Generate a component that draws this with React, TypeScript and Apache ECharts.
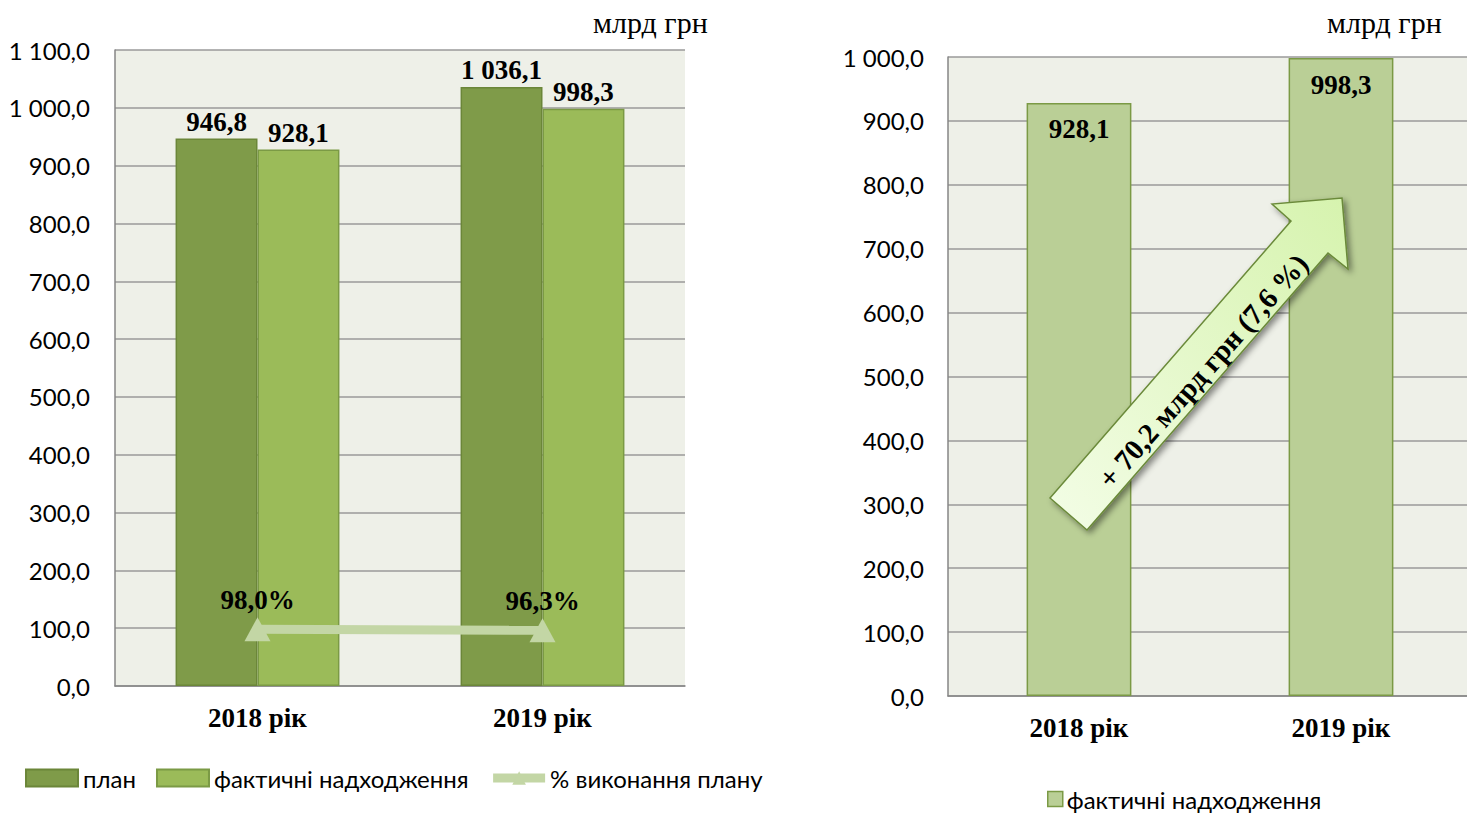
import React, { useEffect, useRef } from "react";
import * as echarts from "echarts";

const categories = ["2018 рік", "2019 рік"];
const planValues = [946.8, 1036.1];
const factValues = [928.1, 998.3];
const pctValues = [98.0, 96.3];
const pctLabels = ["98,0%", "96,3%"];
const rightFactValues = [928.1, 998.3];
const unitLabel = "млрд грн";
const arrowText = "+ 70,2 млрд грн (7,6 %)";

const SERIF = '"Liberation Serif", "Times New Roman", serif';
const SANS = 'Lato, "Noto Sans", "Liberation Sans", sans-serif';

function fmt(v: number): string {
  const s = Number(v).toFixed(1);
  const [i, d] = s.split(".");
  return i.replace(/\B(?=(\d{3})+(?!\d))/g, " ") + "," + d;
}

export default function App() {
  const ref = useRef<HTMLDivElement>(null);
  useEffect(() => {
    if (!ref.current) return;
    const chart = echarts.init(ref.current, null, { renderer: "svg" });
    const gridLine = { show: true, lineStyle: { color: "#9a9a9a", width: 1.5 } };
    const yLabel = {
      fontFamily: SANS,
      fontSize: 24,
      color: "#000",
      margin: 25,
      formatter: (v: number) => fmt(v),
    };
    const xLabel = {
      fontFamily: SERIF,
      fontSize: 27,
      fontWeight: "bold" as const,
      color: "#000",
      margin: 18,
    };
    const option: any = {
      animation: false,
      backgroundColor: "#ffffff",
      grid: [
        { left: 115, top: 50, width: 570, height: 636, show: true, backgroundColor: "#eef0e8", borderWidth: 0 },
        { left: 948, top: 57, width: 524, height: 639, show: true, backgroundColor: "#eef0e8", borderWidth: 0 },
      ],
      xAxis: [
        {
          type: "category", gridIndex: 0, data: categories,
          axisLine: { lineStyle: { color: "#868686", width: 1.5 } },
          axisTick: { show: false }, axisLabel: xLabel,
        },
        {
          type: "category", gridIndex: 1, data: categories,
          axisLine: { lineStyle: { color: "#868686", width: 1.5 } },
          axisTick: { show: false }, axisLabel: xLabel,
        },
      ],
      yAxis: [
        {
          type: "value", gridIndex: 0, min: 0, max: 1100, interval: 100,
          axisLine: { show: true, lineStyle: { color: "#868686", width: 1.5 } },
          axisTick: { show: false }, splitLine: gridLine, axisLabel: yLabel,
        },
        {
          type: "value", gridIndex: 1, min: 0, max: 1000, interval: 100,
          axisLine: { show: true, lineStyle: { color: "#868686", width: 1.5 } },
          axisTick: { show: false }, splitLine: gridLine, axisLabel: { ...yLabel, margin: 24 },
        },
        {
          type: "value", gridIndex: 0, min: 0, max: 1100, show: false,
          splitLine: { show: false },
        },
      ],
      legend: [
        {
          left: 25, top: 766, padding: 0, itemWidth: 52, itemHeight: 17, itemGap: 20,
          textStyle: { fontFamily: SANS, fontSize: 24, color: "#000" },
          data: [
            { name: "план", icon: "rect" },
            { name: "фактичні надходження", icon: "rect" },
            {
              name: "% виконання плану",
              lineStyle: { width: 9, color: "#c3d6a5" },
              itemStyle: { color: "#c3d6a5" },
            },
          ],
        },
        {
          left: 1047, top: 787, padding: 0, itemWidth: 15, itemHeight: 15, itemGap: 10,
          textStyle: { fontFamily: SANS, fontSize: 24, color: "#000", padding: [0, 0, 0, -1] },
          data: [
            { name: "фактичні надходження", icon: "rect", itemStyle: { color: "#bacf96", borderColor: "#7b9a45", borderWidth: 1.5 } },
          ],
        },
      ],
      series: [
        {
          name: "план", type: "bar", xAxisIndex: 0, yAxisIndex: 0,
          data: planValues, barGap: "0%", barCategoryGap: "42.5%",
          itemStyle: { color: "#7f9b49", borderColor: "#6b8639", borderWidth: 1.5 },
          label: {
            show: true, position: "top", distance: 3,
            fontFamily: SERIF, fontSize: 27, fontWeight: "bold", color: "#000",
            formatter: (p: any) => fmt(p.value),
          },
        },
        {
          name: "фактичні надходження", type: "bar", xAxisIndex: 0, yAxisIndex: 0,
          data: factValues, barGap: "0%", barCategoryGap: "42.5%",
          itemStyle: { color: "#9bbb59", borderColor: "#7b9a45", borderWidth: 1.5 },
          label: {
            show: true, position: "top", distance: 3,
            fontFamily: SERIF, fontSize: 27, fontWeight: "bold", color: "#000",
            formatter: (p: any) => fmt(p.value),
          },
        },
        {
          name: "% виконання плану", type: "line", xAxisIndex: 0, yAxisIndex: 2,
          data: pctValues, symbol: "triangle", symbolSize: [26, 24],
          lineStyle: { color: "#c3d6a5", width: 9 },
          itemStyle: { color: "#c3d6a5" },
          z: 5,
          label: {
            show: true, position: "top", distance: 4,
            fontFamily: SERIF, fontSize: 27, fontWeight: "bold", color: "#000",
            formatter: (p: any) => pctLabels[p.dataIndex],
          },
        },
        {
          name: "фактичні надходження", type: "bar", xAxisIndex: 1, yAxisIndex: 1,
          data: rightFactValues, barCategoryGap: "60%",
          itemStyle: { color: "#bacf96", borderColor: "#7b9a45", borderWidth: 1.5 },
          label: {
            show: true, position: "insideTop", distance: 13,
            fontFamily: SERIF, fontSize: 27, fontWeight: "bold", color: "#000",
            formatter: (p: any) => fmt(p.value),
          },
        },
      ],
      graphic: [
        {
          type: "text", left: 593, top: 7,
          style: { text: unitLabel, fontFamily: SERIF, fontSize: 30, fill: "#000" },
        },
        {
          type: "text", left: 1327, top: 7,
          style: { text: unitLabel, fontFamily: SERIF, fontSize: 30, fill: "#000" },
        },
        {
          type: "polygon", z: 100,
          shape: {
            points: [
              [1050, 498], [1291, 221], [1272, 204], [1342, 198],
              [1348, 269], [1328, 253], [1087, 530],
            ],
          },
          style: {
            fill: new echarts.graphic.LinearGradient(0, 1, 1, 0, [
              { offset: 0, color: "#f3fde6" },
              { offset: 1, color: "#d6f3ae" },
            ]),
            stroke: "#6b8a3a", lineWidth: 1.5,
            shadowBlur: 6, shadowColor: "rgba(0,0,0,0.45)", shadowOffsetX: 3, shadowOffsetY: 3,
          },
        },
        {
          type: "text", z: 101, x: 1203, y: 371, rotation: (48.6 * Math.PI) / 180,
          style: {
            text: arrowText, fontFamily: SERIF, fontSize: 29, fontWeight: "bold", fill: "#000",
            align: "center", verticalAlign: "middle",
          },
        },
      ],
    };
    chart.setOption(option);
    return () => chart.dispose();
  }, []);
  return (
    <div style={{ position: "absolute", left: 0, top: 0, width: 1467, height: 813, overflow: "hidden" }}>
      <div ref={ref} style={{ width: 1480, height: 813 }} />
    </div>
  );
}
